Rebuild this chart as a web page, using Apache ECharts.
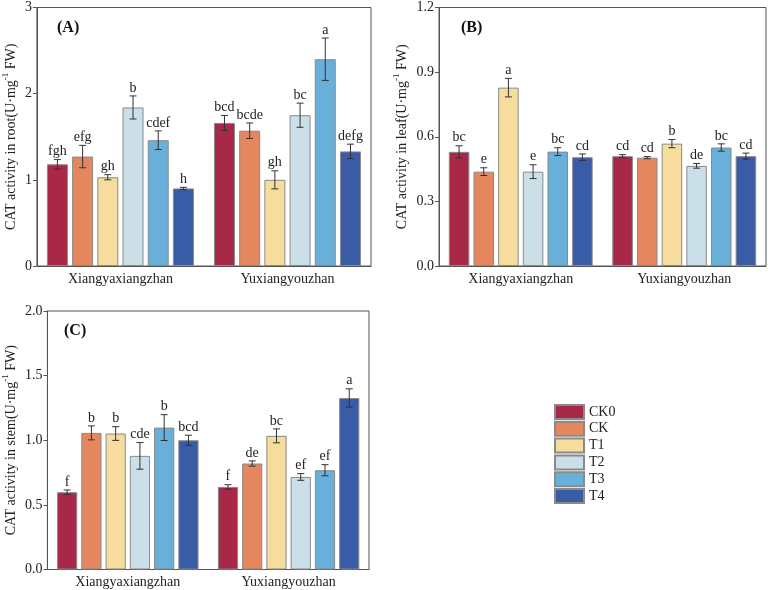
<!DOCTYPE html>
<html>
<head>
<meta charset="utf-8">
<script src="https://cdn.jsdelivr.net/npm/echarts@6/dist/echarts.min.js"></script>
<style>html,body{margin:0;padding:0;background:#fff;}#c{width:771px;height:590px;}</style>
</head>
<body>
<div id="c"></div>
<script>
const groups = ['Xiangyaxiangzhan', 'Yuxiangyouzhan'];
const treatments = ['CK0', 'CK', 'T1', 'T2', 'T3', 'T4'];
const colors = ['#A82848', '#E4875F', '#F6DD9E', '#CADFE7', '#68B0DA', '#3A5BA5'];

// values indexed [treatment][group]
const rootMean = [[1.18, 1.66], [1.27, 1.57], [1.03, 1.00], [1.84, 1.75], [1.46, 2.40], [0.90, 1.33]];
const rootErr  = [[0.055, 0.087], [0.13, 0.09], [0.03, 0.105], [0.134, 0.14], [0.108, 0.246], [0.013, 0.084]];
const rootLetters = [['fgh', 'bcd'], ['efg', 'bcde'], ['gh', 'gh'], ['b', 'bc'], ['cdef', 'a'], ['h', 'defg']];

const leafMean = [[0.530, 0.510], [0.438, 0.503], [0.828, 0.568], [0.438, 0.465], [0.531, 0.550], [0.505, 0.510]];
const leafErr  = [[0.028, 0.007], [0.018, 0.005], [0.043, 0.019], [0.032, 0.011], [0.018, 0.017], [0.015, 0.014]];
const leafLetters = [['bc', 'cd'], ['e', 'cd'], ['a', 'b'], ['e', 'de'], ['bc', 'bc'], ['cd', 'cd']];

const stemMean = [[0.598, 0.639], [1.057, 0.820], [1.052, 1.034], [0.879, 0.716], [1.098, 0.768], [1.000, 1.327]];
const stemErr  = [[0.017, 0.017], [0.054, 0.020], [0.053, 0.054], [0.103, 0.026], [0.100, 0.043], [0.039, 0.071]];
const stemLetters = [['f', 'f'], ['b', 'de'], ['b', 'bc'], ['cde', 'ef'], ['b', 'ef'], ['bcd', 'a']];

const rootTicks = [0, 1, 2, 3];
const leafTicks = [0.0, 0.3, 0.6, 0.9, 1.2];
const stemTicks = [0.0, 0.5, 1.0, 1.5, 2.0];

const panelLabels = ['(A)', '(B)', '(C)'];
const yNames = [
  'CAT activity in root(U·mg{sup|-1} FW)',
  'CAT activity in leaf(U·mg{sup|-1} FW)',
  'CAT activity in stem(U·mg{sup|-1} FW)'
];

const FONT = 'Liberation Serif';
const FRAME = '#555';
const CAT_GAP = 0.12, BAR_GAP = 0.2;

const panels = [
  {mean: rootMean, err: rootErr, letters: rootLetters, ticks: rootTicks, dec: 0, nameGap: 15},
  {mean: leafMean, err: leafErr, letters: leafLetters, ticks: leafTicks, dec: 1, nameGap: 27},
  {mean: stemMean, err: stemErr, letters: stemLetters, ticks: stemTicks, dec: 1, nameGap: 23}
];

const grids = [
  {left: 35, top: 7.5, width: 336, height: 258.5},
  {left: 439, top: 7.5, width: 327, height: 258.5},
  {left: 42, top: 311, width: 327, height: 258.5}
];

const xAxes = [], yAxes = [], series = [], graphics = [];
panels.forEach((p, k) => {
  xAxes.push({
    type: 'category', gridIndex: k, data: groups,
    axisLine: {lineStyle: {color: FRAME, width: 1}},
    axisTick: {show: false},
    axisLabel: {fontFamily: FONT, fontSize: 14, color: '#222', margin: 6}
  });
  const t = p.ticks;
  yAxes.push({
    type: 'value', gridIndex: k, min: t[0], max: t[t.length - 1], interval: t[1] - t[0],
    name: yNames[k], nameLocation: 'middle', nameGap: p.nameGap,
    nameTextStyle: {fontFamily: FONT, fontSize: 14, color: '#222', lineHeight: 20,
      rich: {sup: {fontFamily: FONT, fontSize: 9, color: '#222', verticalAlign: 'top', lineHeight: 20}}},
    axisLine: {show: true, lineStyle: {color: FRAME, width: 1}},
    axisTick: {show: true, length: 4, lineStyle: {color: FRAME}},
    splitLine: {show: false},
    axisLabel: {fontFamily: FONT, fontSize: 14, color: '#222', margin: 5,
      formatter: v => v.toFixed(p.dec)}
  });
  treatments.forEach((name, i) => {
    series.push({
      type: 'bar', name: name, xAxisIndex: k, yAxisIndex: k,
      data: p.mean[i],
      barCategoryGap: (CAT_GAP * 100) + '%', barGap: (BAR_GAP * 100) + '%',
      itemStyle: {color: colors[i], borderColor: '#8a8a8a', borderWidth: 1},
      emphasis: {disabled: true}
    });
  });
  const errData = [];
  treatments.forEach((name, i) => {
    groups.forEach((g, j) => {
      errData.push([j, p.mean[i][j], i, p.err[i][j]]);
    });
  });
  series.push({
    type: 'custom', xAxisIndex: k, yAxisIndex: k, z: 5,
    data: errData, encode: {x: 0, y: 1},
    renderItem: function (params, api) {
      const g = api.value(0), m = api.value(1), ti = api.value(2), e = api.value(3);
      const cat = api.size([1, 0])[0];
      const usable = cat * (1 - CAT_GAP);
      const w = usable / (treatments.length + (treatments.length - 1) * BAR_GAP);
      const x = api.coord([g, 0])[0] - usable / 2 + ti * w * (1 + BAR_GAP) + w / 2;
      const yT = api.coord([g, m + e])[1];
      const yB = api.coord([g, m - e])[1];
      const cap = 3.5;
      const ls = {stroke: '#333', lineWidth: 1};
      return {
        type: 'group',
        children: [
          {type: 'line', shape: {x1: x, y1: yT, x2: x, y2: yB}, style: ls},
          {type: 'line', shape: {x1: x - cap, y1: yT, x2: x + cap, y2: yT}, style: ls},
          {type: 'line', shape: {x1: x - cap, y1: yB, x2: x + cap, y2: yB}, style: ls},
          {type: 'text', style: {text: p.letters[ti][g], x: x, y: yT - 1, align: 'center',
            verticalAlign: 'bottom', fontFamily: FONT, fontSize: 14, fill: '#222'}}
        ]
      };
    }
  });
  graphics.push({
    type: 'text', left: grids[k].left + 22, top: grids[k].top + 12,
    style: {text: panelLabels[k], fontFamily: FONT, fontSize: 16, fontWeight: 'bold', fill: '#111'}
  });
});

const chart = echarts.init(document.getElementById('c'), null, {renderer: 'canvas'});
chart.setOption({
  animation: false,
  backgroundColor: '#fff',
  grid: grids.map(g => Object.assign({show: true, borderColor: FRAME, borderWidth: 1, backgroundColor: 'transparent'}, g)),
  xAxis: xAxes,
  yAxis: yAxes,
  legend: {
    data: treatments, orient: 'vertical', left: 554, top: 404, padding: 0,
    itemWidth: 29, itemHeight: 14, itemGap: 0.8, icon: 'rect',
    textStyle: {fontFamily: FONT, fontSize: 14, color: '#222'}
  },
  graphic: graphics,
  series: series
});
</script>
</body>
</html>
